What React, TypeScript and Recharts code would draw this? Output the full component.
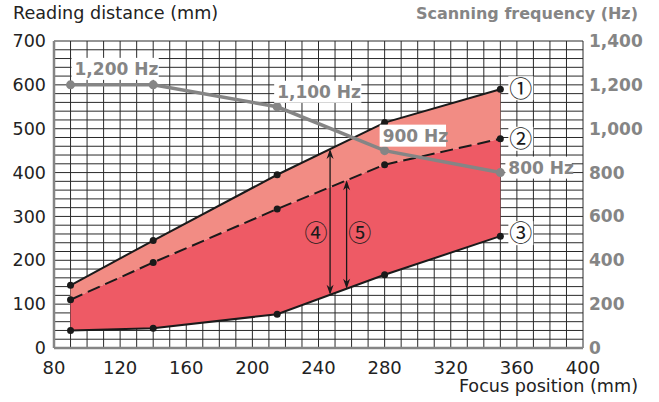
import React from "react";
import {
  ComposedChart,
  Area,
  Line,
  XAxis,
  YAxis,
  CartesianGrid,
  ReferenceLine,
  ReferenceDot,
  LabelList,
} from "recharts";

// focus position (mm)
const focus = [90, 140, 215, 280, 350];
// reading distance curves (mm)
const upper = [143, 245, 395, 514, 590];
const middle = [110, 195, 317, 418, 477];
const lower = [40, 45, 77, 167, 255];
// scanning frequency (Hz)
const freq = [1200, 1200, 1100, 900, 800];
const freqLabels = ["1,200 Hz", "", "1,100 Hz", "900 Hz", "800 Hz"];

const xTicks = [80, 120, 160, 200, 240, 280, 320, 360, 400];
const yTicks = [0, 100, 200, 300, 400, 500, 600, 700];
const fTicks = [0, 200, 400, 600, 800, 1000, 1200, 1400];

const FONT = "'DejaVu Sans', sans-serif";
const CJK = "'Noto Sans CJK JP', 'DejaVu Sans', sans-serif";
const GRAY = "#858585";
const LIGHT = "#F28C84";
const RED = "#EE5A65";

const data = focus.map((x, i) => ({
  x,
  upper: upper[i],
  middle: middle[i],
  lower: lower[i],
  band1: [middle[i], upper[i]],
  band2: [lower[i], middle[i]],
  f: freq[i],
}));

const range = (a: number, b: number, s: number) => {
  const out: number[] = [];
  for (let v = a; v <= b; v += s) out.push(v);
  return out;
};

const interp = (arr: number[], x: number) => {
  for (let i = 0; i < focus.length - 1; i++) {
    if (x >= focus[i] && x <= focus[i + 1]) {
      const t = (x - focus[i]) / (focus[i + 1] - focus[i]);
      return arr[i] + t * (arr[i + 1] - arr[i]);
    }
  }
  return arr[arr.length - 1];
};

const gridY = range(0, 700, 20);
const gridX = range(80, 400, 10);

const hGen = (p: any) =>
  gridY.map((v) =>
    p.yAxis && typeof p.yAxis.scale === "function"
      ? p.yAxis.scale(v)
      : p.offset.top + p.offset.height * (1 - v / 700)
  );
const vGen = (p: any) =>
  gridX.map((v) =>
    p.xAxis && typeof p.xAxis.scale === "function"
      ? p.xAxis.scale(v)
      : p.offset.left + (p.offset.width * (v - 80)) / 320
  );

// label offsets for Hz labels (px from point)
const hzOffsets = [
  [4, -16],
  [0, 0],
  [0, -15],
  [-2, -15],
  [8, -5],
];

const HzLabel = (props: any) => {
  const { x, y, index } = props;
  const text = freqLabels[index];
  if (!text) return null;
  const [dx, dy] = hzOffsets[index];
  const w = text.length * 10.4 + 4;
  return (
    <g>
      <rect x={x + dx - 3} y={y + dy - 11} width={w} height={22} fill="#fff" />
      <text
        x={x + dx}
        y={y + dy}
        dy="0.36em"
        fontFamily={FONT}
        fontWeight="bold"
        fontSize={17}
        fill={GRAY}
      >
        {text}
      </text>
    </g>
  );
};

const circled = (mark: string, dy: number) => (props: any) => {
  const { x, y, index } = props;
  if (index !== focus.length - 1) return null;
  return (
    <g>
      <rect x={x + 8} y={y + dy - 12} width={25} height={24} fill="#fff" />
      <text
        x={x + 20.5}
        y={y + dy}
        dy="0.36em"
        textAnchor="middle"
        fontFamily={CJK}
        fontSize={23}
        fill="#1a1a1a"
      >
        {mark}
      </text>
    </g>
  );
};

const Arrow = (props: any) => {
  const { x1, y1, x2, y2 } = props;
  const top = Math.min(y1, y2);
  const bot = Math.max(y1, y2);
  const x = x1;
  return (
    <g>
      <line x1={x} y1={top + 2} x2={x} y2={bot - 2} stroke="#1a1a1a" strokeWidth={1.3} />
      <path d={`M${x},${top} l-3.5,10 l3.5,-3 l3.5,3 z`} fill="#1a1a1a" />
      <path d={`M${x},${bot} l-3.5,-10 l3.5,3 l3.5,-3 z`} fill="#1a1a1a" />
    </g>
  );
};

const arrows = [
  { x: 247, from: lower, to: upper, label: "④", lx: 238.5 },
  { x: 257, from: lower, to: middle, label: "⑤", lx: 265 },
];

const tickLeft = { fontSize: 17.5, fill: "#222", fontFamily: FONT };
const tickRight = { fontSize: 17, fill: GRAY, fontFamily: FONT, fontWeight: "bold" };
const tickBottom = { fontSize: 18, fill: "#222", fontFamily: FONT };

export default function App() {
  return (
    <div style={{ position: "absolute", left: 0, top: 0, width: 659, height: 402, background: "#fff" }}>
      <div
        style={{
          position: "absolute",
          left: 13,
          top: 3,
          fontFamily: FONT,
          fontSize: 17.6,
          color: "#222",
          whiteSpace: "nowrap",
        }}
      >
        Reading distance (mm)
      </div>
      <div
        style={{
          position: "absolute",
          right: 21,
          top: 4,
          fontFamily: FONT,
          fontSize: 16,
          fontWeight: "bold",
          color: GRAY,
          whiteSpace: "nowrap",
        }}
      >
        Scanning frequency (Hz)
      </div>
      <div
        style={{
          position: "absolute",
          right: 21,
          top: 376,
          fontFamily: FONT,
          fontSize: 17.6,
          color: "#222",
          whiteSpace: "nowrap",
        }}
      >
        Focus position (mm)
      </div>
      <ComposedChart
        width={659}
        height={402}
        data={data}
        margin={{ top: 41, right: 10, bottom: 24, left: 10 }}
        style={{ position: "absolute", left: 0, top: 0 }}
      >
        <CartesianGrid
          yAxisId="d"
          stroke="#2a2a2a"
          strokeWidth={1}
          horizontalCoordinatesGenerator={hGen}
          verticalCoordinatesGenerator={vGen}
        />
        <XAxis
          type="number"
          dataKey="x"
          domain={[80, 400]}
          ticks={xTicks}
          tick={tickBottom}
          tickLine={false}
          tickMargin={7}
          axisLine={{ stroke: GRAY, strokeWidth: 2.5 }}
          height={30}
        />
        <YAxis
          yAxisId="d"
          domain={[0, 700]}
          ticks={yTicks}
          tick={tickLeft}
          tickLine={false}
          axisLine={{ stroke: GRAY, strokeWidth: 2.5 }}
          width={44}
        />
        <YAxis
          yAxisId="f"
          orientation="right"
          domain={[0, 1400]}
          ticks={fTicks}
          tick={tickRight}
          tickFormatter={(v: number) => v.toLocaleString("en-US")}
          tickLine={false}
          tickMargin={0}
          axisLine={false}
          width={66}
        />
        <Area
          yAxisId="d"
          dataKey="band1"
          type="linear"
          fill={LIGHT}
          fillOpacity={1}
          stroke="none"
          isAnimationActive={false}
        />
        <Area
          yAxisId="d"
          dataKey="band2"
          type="linear"
          fill={RED}
          fillOpacity={1}
          stroke="none"
          isAnimationActive={false}
        />
        <Line
          yAxisId="d"
          dataKey="upper"
          type="linear"
          stroke="#1a1a1a"
          strokeWidth={2}
          dot={{ r: 3.5, fill: "#1a1a1a", stroke: "none" }}
          isAnimationActive={false}
        >
          <LabelList dataKey="upper" content={circled("①", -1)} />
        </Line>
        <Line
          yAxisId="d"
          dataKey="middle"
          type="linear"
          stroke="#1a1a1a"
          strokeWidth={2}
          strokeDasharray="13 6"
          dot={{ r: 3.5, fill: "#1a1a1a", stroke: "none", strokeDasharray: "0" }}
          isAnimationActive={false}
        >
          <LabelList dataKey="middle" content={circled("②", 0)} />
        </Line>
        <Line
          yAxisId="d"
          dataKey="lower"
          type="linear"
          stroke="#1a1a1a"
          strokeWidth={2}
          dot={{ r: 3.5, fill: "#1a1a1a", stroke: "none" }}
          isAnimationActive={false}
        >
          <LabelList dataKey="lower" content={circled("③", -3)} />
        </Line>
        {arrows.map((a) => (
          <ReferenceLine
            key={a.label}
            yAxisId="d"
            segment={[
              { x: a.x, y: interp(a.from, a.x) },
              { x: a.x, y: interp(a.to, a.x) },
            ]}
            shape={Arrow}
          />
        ))}
        {arrows.map((a) => (
          <ReferenceDot
            key={"l" + a.label}
            yAxisId="d"
            x={a.lx}
            y={262}
            r={0}
            fill="none"
            stroke="none"
            label={{
              value: a.label,
              position: "center",
              fontSize: 23,
              fontFamily: CJK,
              fill: "#1a1a1a",
            }}
          />
        ))}
        <Line
          yAxisId="f"
          dataKey="f"
          type="linear"
          stroke={GRAY}
          strokeWidth={3.5}
          dot={{ r: 4.5, fill: GRAY, stroke: "none" }}
          isAnimationActive={false}
        >
          <LabelList dataKey="f" content={HzLabel} />
        </Line>
      </ComposedChart>
    </div>
  );
}
